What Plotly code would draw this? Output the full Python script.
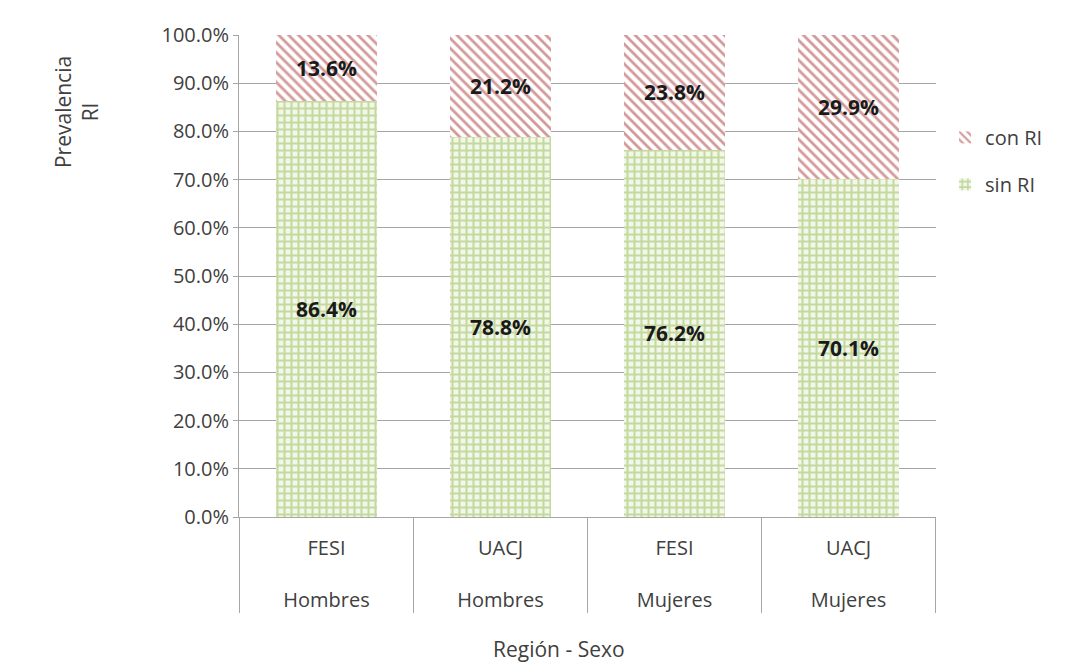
import plotly.graph_objects as go

regions = ["FESI", "UACJ", "FESI", "UACJ"]
sexes = ["Hombres", "Hombres", "Mujeres", "Mujeres"]
sin_ri = [86.4, 78.8, 76.2, 70.1]
con_ri = [13.6, 21.2, 23.8, 29.9]
y_ticks = [0, 10, 20, 30, 40, 50, 60, 70, 80, 90, 100]

cats = [f"{r}<br><br>{s}" for r, s in zip(regions, sexes)]
label_font = dict(family="Open Sans, sans-serif", size=21, color="#1a1a1a")

fig = go.Figure()
fig.add_trace(go.Bar(
    x=cats, y=sin_ri, name="sin RI", legendgroup="a", legendrank=2,
    text=[f"<b>{v:.1f}%</b>" for v in sin_ri],
    textposition="inside", insidetextanchor="middle", textfont=label_font,
    marker=dict(color="#f2f7ea", line=dict(width=0),
                pattern=dict(shape="+", fgcolor="#c3d99e", bgcolor="#f2f7ea",
                             size=7, solidity=0.5, fillmode="replace")),
))
fig.add_trace(go.Bar(
    x=cats, y=con_ri, name="con RI", legendgroup="b", legendrank=1,
    text=[f"<b>{v:.1f}%</b>" for v in con_ri],
    textposition="inside", insidetextanchor="middle", textfont=label_font,
    marker=dict(color="white", line=dict(width=0),
                pattern=dict(shape="\\", fgcolor="#d49a9a", bgcolor="white",
                             size=7, solidity=0.4, fillmode="replace")),
))

# category separators below the axis
for i in range(len(cats) + 1):
    fig.add_shape(type="line", xref="x", yref="paper",
                  x0=i - 0.5, x1=i - 0.5, y0=0, y1=-0.199,
                  line=dict(color="#a6a6a6", width=1))

fig.update_layout(
    width=1066, height=667,
    barmode="stack", bargap=0.425,
    paper_bgcolor="white", plot_bgcolor="white",
    margin=dict(l=231, r=138, t=27, b=158),
    font=dict(family="Open Sans, sans-serif", size=20, color="#404040"),
    showlegend=True,
    legend=dict(x=1.013, y=0.828, xanchor="left", yanchor="top",
                traceorder="grouped", tracegroupgap=18,
                font=dict(size=20, color="#404040"), itemwidth=30),
    xaxis=dict(showline=True, linecolor="#a6a6a6", ticks="", showgrid=False,
               tickfont=dict(size=20, color="#404040"), ticklabelstandoff=13),
    yaxis=dict(range=[0, 100], tickvals=y_ticks,
               ticktext=[f"{v:.1f}%" for v in y_ticks],
               showline=True, linecolor="#a6a6a6", ticks="outside", ticklen=5,
               tickcolor="#a6a6a6", showgrid=True, gridcolor="#a6a6a6",
               tickfont=dict(size=20, color="#404040"), zeroline=False),
    annotations=[
        dict(text="Prevalencia<br>RI", textangle=-90, xref="paper", yref="paper",
             x=-0.234, y=0.84, xanchor="center", yanchor="middle",
             showarrow=False, font=dict(size=21, color="#404040")),
        dict(text="Región - Sexo", xref="paper", yref="paper",
             x=0.459, y=-0.274, xanchor="center", yanchor="middle",
             showarrow=False, font=dict(size=21, color="#404040")),
    ],
)

fig.write_html("out.html")
